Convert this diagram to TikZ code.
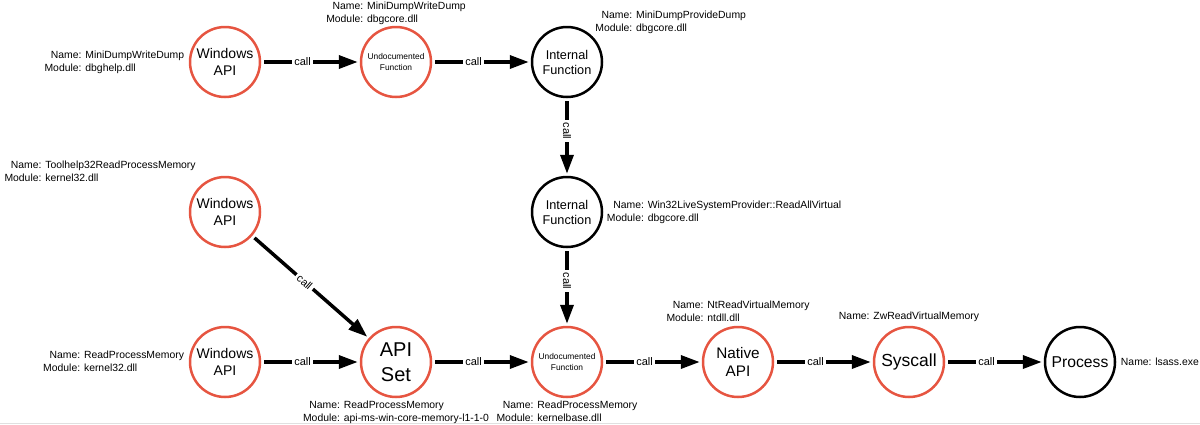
\documentclass[tikz,border=0pt]{standalone}
\usepackage{fontspec}
\setmainfont{Liberation Sans}
\usepackage{tikz}
\usetikzlibrary{arrows.meta,positioning}
\definecolor{apired}{RGB}{230,85,65}
\newcommand{\fs}[2]{\fontsize{#1}{#2}\selectfont}
\newcommand{\info}[2]{\begin{tabular}{@{}r@{ }l@{}}Name: & #1\\Module: & #2\end{tabular}}

\begin{document}
\begin{tikzpicture}[
  x=1pt, y=1pt,
  node distance=150pt and 171pt,
  fn/.style={circle, on grid, draw=apired, line width=2.5pt, minimum size=70pt,
    inner sep=0pt, align=center},
  internal/.style={fn, draw=black},
  info/.style={inner sep=0.5pt, font=\fs{10.4}{13}},
  arrow/.style={-{Triangle[length=19pt, width=13pt]}, line width=3.5pt,
    shorten <=3pt, shorten >=2pt},
  lbl/.style={pos=0.42, fill=white, inner sep=2.5pt, font=\fs{11}{13}}
]
  \useasboundingbox (0,0) rectangle (1200,-424);
  \draw[black!12, line width=1pt] (0,-423) -- (1200,-423);

  % Nodes
  \node[fn, font=\fs{14}{17}] (winapi) at (225,-62) {Windows\\API};
  \node[fn, font=\fs{8.4}{10.6}, right=of winapi] (undoc) {Undocumented\\Function};
  \node[internal, font=\fs{12.7}{15}, right=of undoc] (internal) {Internal\\Function};
  \node[internal, font=\fs{12.7}{15}, below=of internal] (internalb) {Internal\\Function};
  \node[fn, font=\fs{14}{17}, below=of winapi] (toolhelp) {Windows\\API};
  \node[fn, font=\fs{14}{17}, below=of toolhelp] (winrpm) {Windows\\API};
  \node[fn, font=\fs{20}{25}, right=of winrpm] (apiset) {API\\Set};
  \node[fn, font=\fs{8.4}{10.6}, right=of apiset] (undocb) {Undocumented\\Function};
  \node[fn, font=\fs{15.3}{18}, right=of undocb] (native) {Native\\API};
  \node[fn, font=\fs{17.5}{20}, right=of native] (syscall) {Syscall};
  \node[internal, font=\fs{15.7}{19}, right=of syscall] (process) {Process};

  % Names and modules
  \node[info, left=4pt of winapi] (winapiinfo) {\info{MiniDumpWriteDump}{dbghelp.dll}};
  \node[info, above=-1.5pt of undoc] (undocinfo) {\info{MiniDumpWriteDump}{dbgcore.dll}};
  \node[info, above right=0pt and 2pt of internal] (internalinfo) {\info{MiniDumpProvideDump}{dbgcore.dll}};
  \node[info, right=3pt of internalb] (internalbinfo) {\info{Win32LiveSystemProvider::ReadAllVirtual}{dbgcore.dll}};
  \node[info, above left=0pt and 3pt of toolhelp] (toolhelpinfo) {\info{Toolhelp32ReadProcessMemory}{kernel32.dll}};
  \node[info, left=4pt of winrpm] (winrpminfo) {\info{ReadProcessMemory}{kernel32.dll}};
  \node[info, below=0pt of apiset] (apisetinfo) {\info{ReadProcessMemory}{api-ms-win-core-memory-l1-1-0}};
  \node[info, below=0pt of undocb] (undocbinfo) {\info{ReadProcessMemory}{kernelbase.dll}};
  \node[info, above=0pt of native] (nativeinfo) {\info{NtReadVirtualMemory}{ntdll.dll}};
  \node[info, above=3pt of syscall] (syscallinfo) {Name: ZwReadVirtualMemory};
  \node[info, right=4pt of process] (processinfo) {Name: lsass.exe};

  % Arrows
  \draw[arrow] (winapi) -- node[lbl] (c1) {call} (undoc);
  \draw[arrow] (undoc) -- node[lbl] (c2) {call} (internal);
  \draw[arrow] (internal) -- node[lbl, sloped] (c3) {call} (internalb);
  \draw[arrow] (internalb) -- node[lbl, sloped] (c4) {call} (undocb);
  \draw[arrow] (toolhelp) -- node[lbl, sloped, pos=0.45] (c5) {call} (apiset);
  \draw[arrow] (winrpm) -- node[lbl] (c6) {call} (apiset);
  \draw[arrow] (apiset) -- node[lbl] (c7) {call} (undocb);
  \draw[arrow] (undocb) -- node[lbl] (c8) {call} (native);
  \draw[arrow] (native) -- node[lbl] (c9) {call} (syscall);
  \draw[arrow] (syscall) -- node[lbl] (c10) {call} (process);
\end{tikzpicture}
\end{document}
